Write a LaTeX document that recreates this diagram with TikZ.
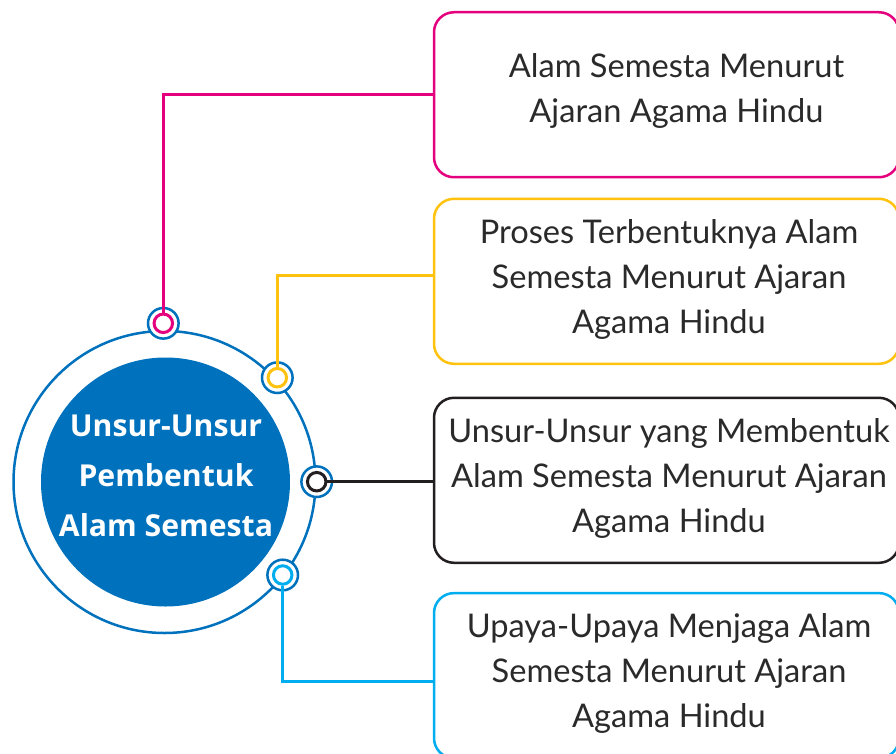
\documentclass[tikz,border=0pt]{standalone}
\usepackage{fontspec}
\setmainfont{Lato}
\newfontfamily\hubfont{Open Sans}
\definecolor{hubblue}{HTML}{0071BC}
\definecolor{pinkc}{HTML}{E5007D}
\definecolor{yellowc}{HTML}{FFC20E}
\definecolor{darkc}{HTML}{231F20}
\definecolor{cyanc}{HTML}{00AEEF}
\definecolor{textc}{HTML}{2A2A2A}
\tikzset{
  boxshape/.style={draw, line width=2.5pt, rounded corners=20pt, minimum width=465pt, minimum height=165pt, inner sep=0pt, fill=white},
  boxtext/.style={font=\fontsize{32.6}{45}\selectfont, text=textc, align=center, inner sep=0pt},
  outerdot/.style={circle, draw=hubblue, fill=white, line width=2.5pt, minimum size=30.6pt, inner sep=0pt},
  innerdot/.style={circle, fill=white, line width=3pt, minimum size=18.5pt, inner sep=0pt},
  conn/.style={line width=2.5pt}
}
\begin{document}
\begin{tikzpicture}[x=1pt,y=-1pt]
\useasboundingbox (0,0) rectangle (896,754);
% hub
\node[circle, draw=hubblue, line width=2.5pt, minimum size=302pt, inner sep=0pt] (ring) at (164.5,482) {};
\node[circle, fill=hubblue, minimum size=249pt, inner sep=0pt] (hub) at (165.5,482) {};
\node[font=\hubfont\bfseries\fontsize{30.2}{50}\selectfont, text=white, align=center, inner sep=0pt] (hubtext) at (166,476) {Unsur-Unsur\\Pembentuk\\Alam Semesta};
% boxes
\node[boxshape, draw=pinkc] (b1) at (666.5,94.75) {};
\node[boxshape, draw=yellowc] (b2) at (666.5,281.3) {};
\node[boxshape, draw=darkc] (b3) at (666.5,480.3) {};
\node[boxshape, draw=cyanc] (b4) at (666.5,675.6) {};
\node[boxtext] (t1) at (676.5,91.4) {Alam Semesta Menurut\\Ajaran Agama Hindu};
\node[boxtext] (t2) at (669,279.9) {Proses Terbentuknya Alam\\Semesta Menurut Ajaran\\Agama Hindu};
\node[boxtext] (t3) at (669,478.6) {Unsur-Unsur yang Membentuk\\Alam Semesta Menurut Ajaran\\Agama Hindu};
\node[boxtext] (t4) at (669,673.9) {Upaya-Upaya Menjaga Alam\\Semesta Menurut Ajaran\\Agama Hindu};
% dots
\node[outerdot] (po) at (163.3,323.3) {};
\node[outerdot] (yo) at (277.3,377.7) {};
\node[outerdot] (ko) at (316.7,481.7) {};
\node[outerdot] (co) at (282.7,575) {};
\node[innerdot, draw=pinkc] (p) at (po) {};
\node[innerdot, draw=yellowc] (yd) at (yo) {};
\node[innerdot, draw=darkc] (k) at (ko) {};
\node[innerdot, draw=cyanc] (c) at (co) {};
% connectors
\draw[conn, pinkc] (p.north) |- (b1.west);
\draw[conn, yellowc] (yd.north) |- ([yshift=6pt]b2.west);
\draw[conn, darkc] (k.east) -- (k.east -| b3.west);
\draw[conn, cyanc] (c.south) |- ([yshift=-6pt]b4.west);
\end{tikzpicture}
\end{document}
